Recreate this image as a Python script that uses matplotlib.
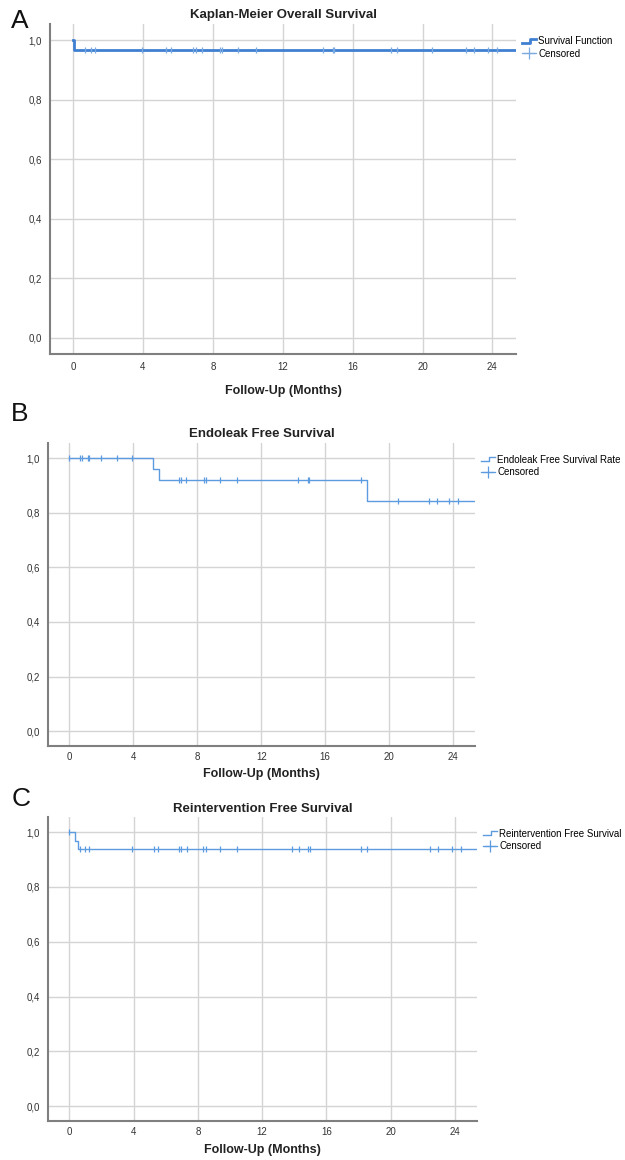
import numpy as np
import matplotlib.pyplot as plt
from matplotlib.lines import Line2D
from matplotlib.legend_handler import HandlerBase

plt.rcParams['font.family'] = ['Liberation Sans Narrow', 'Liberation Sans', 'DejaVu Sans']

# Kaplan-Meier step curves (time in months, survival) and censored times
FOLLOW_UP_MAX = 26

os_times = [0.0, 0.05, FOLLOW_UP_MAX]
os_surv = [1.0, 0.967, 0.967]
os_censored = [0.69, 1.03, 1.23, 3.93, 5.33, 5.6, 6.86, 7.02, 7.38, 8.39, 8.53,
               9.46, 10.47, 14.31, 14.88, 14.95, 18.19, 18.56, 20.55, 22.47,
               22.97, 23.75, 24.27]

el_times = [0.0, 5.25, 5.62, 18.63, FOLLOW_UP_MAX]
el_surv = [1.0, 0.96, 0.92, 0.843, 0.843]
el_censored = [0.0, 0.69, 0.79, 1.15, 1.25, 1.98, 3.02, 3.94, 6.88, 6.98, 7.33,
               8.4, 8.54, 9.42, 10.48, 14.31, 14.9, 14.98, 18.23, 20.56, 22.47,
               22.96, 23.75, 24.27]

ri_times = [0.0, 0.37, 0.56, FOLLOW_UP_MAX]
ri_surv = [1.0, 0.969, 0.9375, 0.9375]
ri_censored = [0.0, 0.66, 1.0, 1.2, 3.88, 5.25, 5.5, 6.85, 6.95, 7.32, 8.34, 8.5,
               9.4, 10.43, 13.85, 14.3, 14.88, 14.95, 18.15, 18.52, 22.46, 22.92,
               23.8, 24.4]

x_ticks = [0, 4, 8, 12, 16, 20, 24]
y_ticks = [0.0, 0.2, 0.4, 0.6, 0.8, 1.0]
y_ticklabels = ["0,0", "0,2", "0,4", "0,6", "0,8", "1,0"]


class StepHandler(HandlerBase):
    # legend key drawn as a small step like SPSS
    def create_artists(self, legend, orig_handle, xdescent, ydescent,
                       width, height, fontsize, trans):
        xs = [-xdescent, -xdescent + width * 0.55, -xdescent + width * 0.55, -xdescent + width]
        ys = [-ydescent + height * 0.25, -ydescent + height * 0.25,
              -ydescent + height * 0.85, -ydescent + height * 0.85]
        line = Line2D(xs, ys, color=orig_handle.get_color(),
                      linewidth=orig_handle.get_linewidth())
        line.set_transform(trans)
        return [line]


def km_panel(ax, times, surv, censored, title, label, lw, color, cens_color,
             tickpad=6, labelpad=9):
    ax.step(times, surv, where='post', color=color, linewidth=lw, zorder=3)
    idx = np.searchsorted(times, censored, side='right') - 1
    cy = np.array(surv)[idx]
    ax.plot(censored, cy, linestyle='none', marker='|', markersize=5,
            markeredgewidth=0.9, color=cens_color, zorder=4)

    ax.set_xlim(-1.32, 25.35)
    ax.set_ylim(-0.054, 1.055)
    ax.set_xticks(x_ticks)
    ax.set_yticks(y_ticks)
    ax.set_yticklabels(y_ticklabels)
    ax.grid(True, color='#d4d4d4', linewidth=1.0)
    ax.set_axisbelow(True)
    for s in ['top', 'right']:
        ax.spines[s].set_visible(False)
    for s in ['left', 'bottom']:
        ax.spines[s].set_color('#7f7f7f')
        ax.spines[s].set_linewidth(1.5)
    ax.tick_params(length=0, labelsize=7, colors='#333333', pad=tickpad)
    ax.tick_params(axis='y', pad=6)
    ax.set_title(title, fontsize=9.5, fontweight='bold', pad=4, color='#222222')
    ax.set_xlabel('Follow-Up (Months)', fontsize=9, fontweight='bold',
                  labelpad=labelpad, color='#222222')

    h1 = Line2D([], [], color=color, linewidth=lw)
    h2 = Line2D([], [], color=cens_color, linewidth=0.9, marker='+',
                markersize=8, markeredgewidth=0.9)
    ax.legend([h1, h2], [label, 'Censored'], handler_map={h1: StepHandler()},
              loc='upper left', bbox_to_anchor=(1.0, 0.98), frameon=False,
              fontsize=7, handlelength=1.5, handletextpad=0.2,
              borderaxespad=0.2, labelspacing=0.25)


fig = plt.figure(figsize=(6.25, 11.6), dpi=100)
ax_a = fig.add_axes([0.080, 0.6948, 0.7456, 0.2845])
ax_b = fig.add_axes([0.0768, 0.3569, 0.683, 0.2612])
ax_c = fig.add_axes([0.0768, 0.0336, 0.686, 0.262])

km_panel(ax_a, os_times, os_surv, os_censored, 'Kaplan-Meier Overall Survival',
         'Survival Function', 2.0, '#3f80d2', '#7aaae0')
km_panel(ax_b, el_times, el_surv, el_censored, 'Endoleak Free Survival',
         'Endoleak Free Survival Rate', 1.0, '#5d9be0', '#5d9be0',
         tickpad=4, labelpad=5)
km_panel(ax_c, ri_times, ri_surv, ri_censored, 'Reintervention Free Survival',
         'Reintervention Free Survival', 1.0, '#5d9be0', '#5d9be0',
         tickpad=4, labelpad=5)

for letter, y in [('A', 0.976), ('B', 0.637), ('C', 0.305)]:
    fig.text(0.018, y, letter, fontsize=19, family=['Liberation Sans', 'DejaVu Sans'],
             color='#111111', va='baseline')

fig.savefig('out.png', dpi=100)
